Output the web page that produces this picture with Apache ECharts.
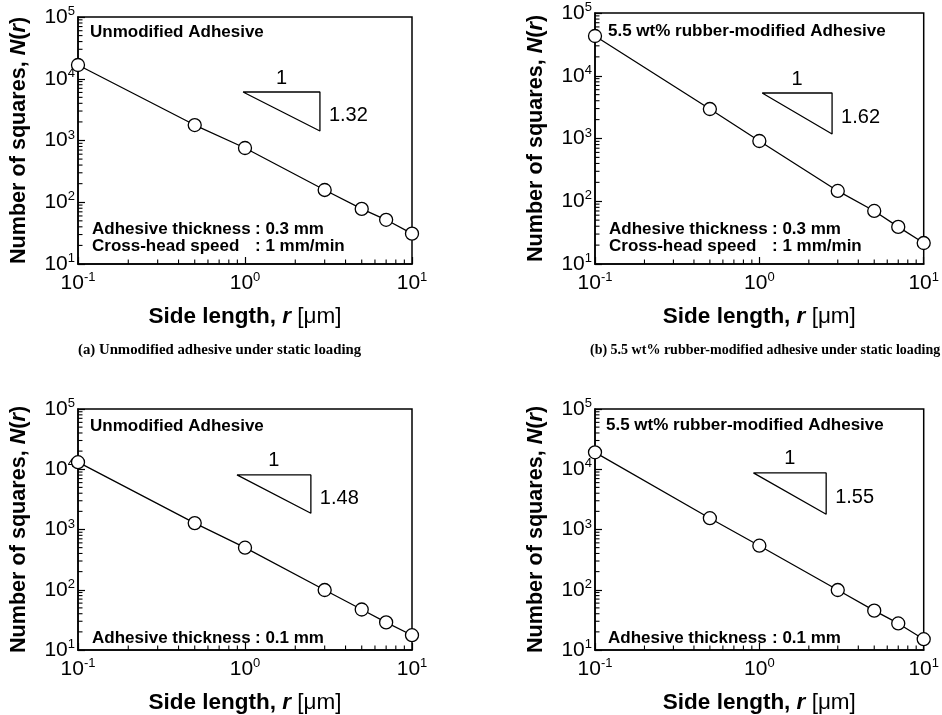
<!DOCTYPE html>
<html><head><meta charset="utf-8">
<script src="https://cdn.jsdelivr.net/npm/echarts@6/dist/echarts.min.js"></script>
<style>html,body{margin:0;padding:0;background:#fff}#c{width:942px;height:715px}</style>
</head><body><div id="c"></div>
<script>
// ---- data ----
const sideLength = [0.1, 0.5, 1, 3, 5, 7, 10];
const countsA = [16700, 1780, 756, 158, 78, 52, 31];
const countsB = [43000, 2950, 912, 146, 70, 39, 21.6];
const countsC = [13100, 1277, 499, 99, 47, 28.7, 17.6];
const countsD = [19100, 1540, 538, 99, 45, 27.6, 15.1];
// slope triangles: [x-left, x-right, y-top, y-bottom] in data units
const triangleA = [0.973, 2.81, 6100, 1425];
const triangleB = [1.04, 2.77, 5310, 1180];
const triangleC = [0.895, 2.48, 8050, 1860];
const triangleD = [0.92, 2.55, 8690, 1790];
const slopeLabels = ['1.32', '1.62', '1.48', '1.55'];
const runLabel = '1';
const xMin = 0.1, xMax = 10, yMin = 10, yMax = 100000;
const xMinorTicks = [0.2,0.3,0.4,0.5,0.6,0.7,0.8,0.9,2,3,4,5,6,7,8,9];
const yMinorTicks = [20,30,40,50,60,70,80,90,200,300,400,500,600,700,800,900,2000,3000,4000,5000,6000,7000,8000,9000,20000,30000,40000,50000,60000,70000,80000,90000];
const panelTitles = ['Unmodified Adhesive', '5.5 wt% rubber-modified Adhesive', 'Unmodified Adhesive', '5.5 wt% rubber-modified Adhesive'];
const captions = ['(a) Unmodified adhesive under static loading', '(b) 5.5 wt% rubber-modified adhesive under static loading'];

// ---- layout ----
const FONT = '"Liberation Sans", Arial, Helvetica, sans-serif';
const grids = [
  {left: 78, top: 17, width: 334, height: 247},
  {left: 595, top: 13, width: 330, height: 251},
  {left: 78, top: 409, width: 334, height: 245},
  {left: 595, top: 409, width: 330, height: 245}
];
const counts = [countsA, countsB, countsC, countsD];
const triangles = [triangleA, triangleB, triangleC, triangleD];

const supRich = {
  b: {fontSize: 21, fontFamily: FONT, color: '#000', lineHeight: 24},
  s: {fontSize: 13, fontFamily: FONT, color: '#000', lineHeight: 12, verticalAlign: 'top'}
};
function powLabel(v) {
  const e = Math.round(Math.log10(v));
  return '{b|10}{s|' + e + '}';
}

const xAxes = [], yAxes = [], series = [];
grids.forEach((g, i) => {
  xAxes.push({
    type: 'log', logBase: 10, min: xMin, max: xMax, gridIndex: i,
    axisLine: {onZero: false, lineStyle: {color: '#000', width: 1.5}},
    axisTick: {inside: true, length: 7, lineStyle: {color: '#000', width: 1.2}},
    axisLabel: {margin: 7, formatter: powLabel, rich: supRich},
    splitLine: {show: false},
    name: '{a|Side length, }{i|r}{n| [μm]}', nameLocation: 'middle', nameGap: 41,
    nameTextStyle: {rich: {
      a: {fontSize: 22.5, fontWeight: 'bold', fontFamily: FONT, color: '#000'},
      i: {fontSize: 22.5, fontWeight: 'bold', fontStyle: 'italic', fontFamily: FONT, color: '#000'},
      n: {fontSize: 22.5, fontFamily: FONT, color: '#000'}
    }}
  });
  yAxes.push({
    type: 'log', logBase: 10, min: yMin, max: yMax, gridIndex: i,
    axisLine: {onZero: false, lineStyle: {color: '#000', width: 1.5}},
    axisTick: {inside: true, length: 7, lineStyle: {color: '#000', width: 1.2}},
    axisLabel: {margin: 3, formatter: powLabel, rich: supRich},
    splitLine: {show: false},
    name: '{a|Number of squares, }{i|N}{a|(}{i|r}{a|)}', nameLocation: 'middle', nameGap: 48,
    nameTextStyle: {rich: {
      a: {fontSize: 21.6, fontWeight: 'bold', fontFamily: FONT, color: '#000'},
      i: {fontSize: 21.6, fontWeight: 'bold', fontStyle: 'italic', fontFamily: FONT, color: '#000'}
    }}
  });
  // minor ticks (x then y), drawn through the axes' log scales
  series.push({
    type: 'custom', xAxisIndex: i, yAxisIndex: i, silent: true, clip: false, z: 4,
    data: xMinorTicks.map(v => [v, yMin]),
    renderItem: function (params, api) {
      const p = api.coord([api.value(0), api.value(1)]);
      return {type: 'line', shape: {x1: p[0], y1: p[1], x2: p[0], y2: p[1] - 4.5},
        style: {stroke: '#000', lineWidth: 1.1}};
    }
  });
  series.push({
    type: 'custom', xAxisIndex: i, yAxisIndex: i, silent: true, clip: false, z: 4,
    data: yMinorTicks.map(v => [xMin, v]),
    renderItem: function (params, api) {
      const p = api.coord([api.value(0), api.value(1)]);
      return {type: 'line', shape: {x1: p[0], y1: p[1], x2: p[0] + 4.5, y2: p[1]},
        style: {stroke: '#000', lineWidth: 1.1}};
    }
  });
  // slope triangle
  const t = triangles[i];
  series.push({
    type: 'line', xAxisIndex: i, yAxisIndex: i, silent: true, symbol: 'none',
    data: [[t[0], t[2]], [t[1], t[2]], [t[1], t[3]], [t[0], t[2]]],
    lineStyle: {color: '#000', width: 1.3}
  });
  const lab = {color: '#000', fontSize: 20, fontFamily: FONT};
  series.push({
    type: 'scatter', xAxisIndex: i, yAxisIndex: i, silent: true, symbolSize: 0,
    itemStyle: {opacity: 1},
    data: [
      {value: [Math.sqrt(t[0] * t[1]), t[2]], label: Object.assign({show: true, position: 'top', distance: 4, formatter: runLabel}, lab)},
      {value: [t[1], Math.sqrt(t[2] * t[3]) * 0.85], label: Object.assign({show: true, position: 'right', distance: 9, formatter: slopeLabels[i]}, lab)}
    ],
    label: lab
  });
  // data
  series.push({
    type: 'line', xAxisIndex: i, yAxisIndex: i, clip: false, z: 5,
    data: sideLength.map((x, k) => [x, counts[i][k]]),
    symbol: 'circle', symbolSize: 13,
    itemStyle: {color: '#fff', borderColor: '#000', borderWidth: 1.3},
    lineStyle: {color: '#000', width: 1.3}
  });
});

function txt(x, y, text, font) {
  return {type: 'text', x: x, y: y, style: {text: text, font: font || ('bold 17px ' + FONT), fill: '#000', textVerticalAlign: 'middle', verticalAlign: 'middle'}};
}
const graphic = [
  txt(90, 32, panelTitles[0]),
  txt(92, 229, 'Adhesive thickness'), txt(255, 229, ': 0.3 mm'),
  txt(92, 246, 'Cross-head speed'), txt(255, 246, ': 1 mm/min'),
  txt(608, 31, panelTitles[1]),
  txt(609, 229, 'Adhesive thickness'), txt(772, 229, ': 0.3 mm'),
  txt(609, 246, 'Cross-head speed'), txt(772, 246, ': 1 mm/min'),
  txt(90, 426, panelTitles[2]),
  txt(92, 638, 'Adhesive thickness'), txt(255, 638, ': 0.1 mm'),
  txt(606, 425, panelTitles[3]),
  txt(608, 638, 'Adhesive thickness'), txt(772, 638, ': 0.1 mm'),
  txt(78, 350, captions[0], 'bold 14.8px "Liberation Serif", "Times New Roman", serif'),
  txt(590, 350, captions[1], 'bold 14px "Liberation Serif", "Times New Roman", serif')
];

const chart = echarts.init(document.getElementById('c'), null, {renderer: 'canvas'});
chart.setOption({
  animation: false,
  backgroundColor: '#fff',
  grid: grids.map(g => Object.assign({show: true, borderColor: '#000', borderWidth: 1.5, backgroundColor: 'transparent'}, g)),
  xAxis: xAxes, yAxis: yAxes, series: series, graphic: graphic
});
</script></body></html>
